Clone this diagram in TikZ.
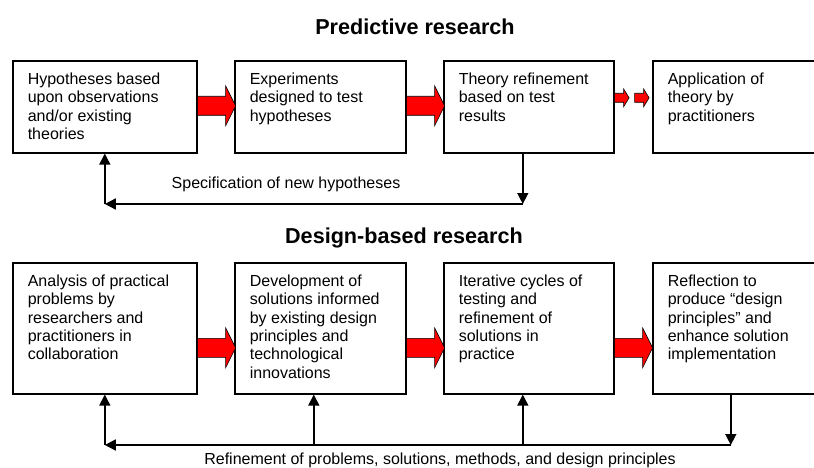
\documentclass[tikz,border=0pt]{standalone}
\usepackage{fontspec}
\setmainfont{Liberation Sans}
\usepackage{xcolor}
\usepackage{tikz}
\usetikzlibrary{calc,arrows.meta}
\definecolor{ink}{HTML}{000000}
\definecolor{flow}{HTML}{FF0000}
\newcommand{\boxtext}[3]{\parbox[t][#2][t]{#1}{\raggedright #3}}
\tikzset{
  box/.style={draw=ink, line width=1.6pt, anchor=north west, inner xsep=15pt, inner ysep=12pt, font=\fontsize{16}{18.4}\selectfont},
  fb/.style={draw=ink, line width=1.5pt, -{Triangle[length=11pt,width=11pt]}},
  redarrow/.style={draw=ink, fill=flow, line width=0.6pt, line join=miter},
  title/.style={anchor=base, font=\fontsize{21.6}{26}\selectfont\bfseries},
  lab/.style={anchor=base, font=\fontsize{16}{18.4}\selectfont},
  bigarrow/.pic={\draw[redarrow] (0,-9.5) -- (28,-9.5) -- (28,-20) -- (38,0) -- (28,20) -- (28,9.5) -- (0,9.5) -- cycle;},
  smallarrow/.pic={\draw[redarrow] (0,-4.5) -- (9,-4.5) -- (9,-9) -- (14.5,0) -- (9,9) -- (9,4.5) -- (0,4.5) -- cycle;},
}
\begin{document}
\begin{tikzpicture}[x=1pt, y=-1pt]
\useasboundingbox (0,0) rectangle (814,468);

% predictive research
\node[title] (ptitle) at (415,35) {Predictive research};
\node[box] (h1) at (12,60) {\boxtext{154pt}{68pt}{Hypotheses based\\upon observations\\and/or existing\\theories}};
\node[box] (h2) at (234,60) {\boxtext{141pt}{68pt}{Experiments\\designed to test\\hypotheses}};
\node[box] (h3) at (443,60) {\boxtext{140pt}{68pt}{Theory refinement\\based on test\\results}};
\node[box] (h4) at (652,60) {\boxtext{140pt}{68pt}{Application of\\theory by\\practitioners}};

\pic at ([yshift=1pt]h1.east) {bigarrow};
\pic at ([yshift=1pt]h2.east) {bigarrow};
\pic at ([yshift=9pt]h3.east) {smallarrow};
\pic at ([xshift=20pt,yshift=9pt]h3.east) {smallarrow};

\coordinate (ptop) at (0,204);
\coordinate (h3f) at ([xshift=-6pt]h3.south);
\draw[fb] (h3f) -- (h3f |- ptop);
\draw[fb] (h3f |- ptop) -- (h1.south |- ptop);
\draw[fb] (h1.south |- ptop) -- (h1.south);
\node[lab] (plab) at (286,188) {Specification of new hypotheses};

% design-based research
\node[title] (dtitle) at (404,243) {Design-based research};
\node[box] (d1) at (12,262) {\boxtext{154pt}{107pt}{Analysis of practical\\problems by\\researchers and\\practitioners in\\collaboration}};
\node[box] (d2) at (234,262) {\boxtext{141pt}{107pt}{Development of\\solutions informed\\by existing design\\principles and\\technological\\innovations}};
\node[box] (d3) at (443,262) {\boxtext{140pt}{107pt}{Iterative cycles of\\testing and\\refinement of\\solutions in\\practice}};
\node[box] (d4) at (652,262) {\boxtext{140pt}{107pt}{Reflection to\\produce “design\\principles” and\\enhance solution\\implementation}};

\pic at ([yshift=-19.5pt]d1.east) {bigarrow};
\pic at ([yshift=-19.5pt]d2.east) {bigarrow};
\pic at ([yshift=-19.5pt]d3.east) {bigarrow};

\coordinate (dbot) at (0,445);
\coordinate (d2f) at ([xshift=-6.5pt]d2.south);
\coordinate (d3f) at ([xshift=-6pt]d3.south);
\coordinate (d4f) at ([xshift=-7pt]d4.south);
\draw[fb] (d4f) -- (d4f |- dbot);
\draw[fb] (d4f |- dbot) -- (d1.south |- dbot);
\draw[fb] (d1.south |- dbot) -- (d1.south);
\draw[fb] (d2f |- dbot) -- (d2f);
\draw[fb] (d3f |- dbot) -- (d3f);
\node[lab] (dlab) at (440,464) {Refinement of problems, solutions, methods, and design principles};
\end{tikzpicture}
\end{document}
